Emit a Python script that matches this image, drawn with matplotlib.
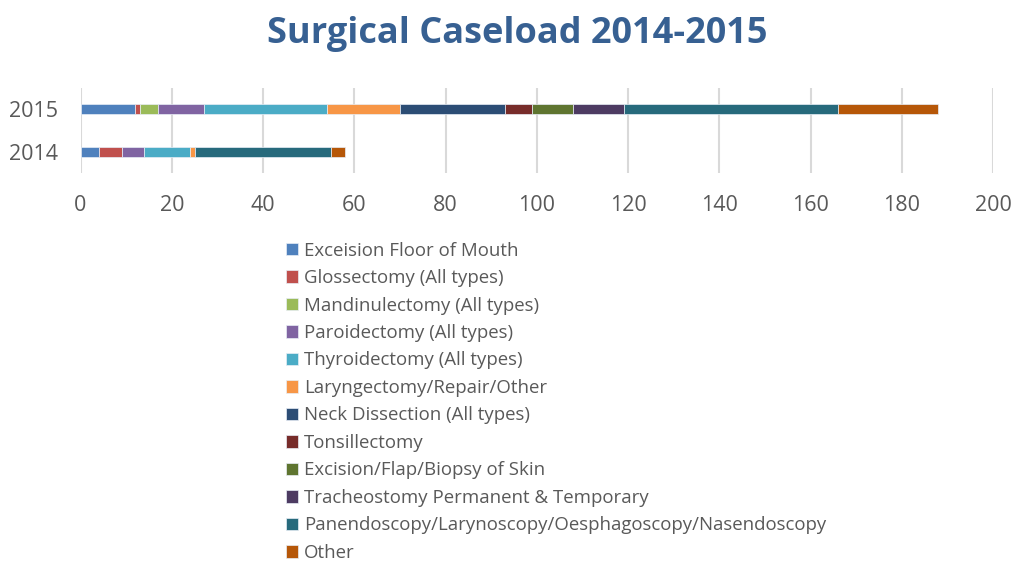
import matplotlib
matplotlib.use("Agg")
import matplotlib.pyplot as plt

plt.rcParams["font.family"] = ["Open Sans", "DejaVu Sans"]

years = ["2014", "2015"]
procedures = [
    "Exceision Floor of Mouth",
    "Glossectomy (All types)",
    "Mandinulectomy (All types)",
    "Paroidectomy (All types)",
    "Thyroidectomy (All types)",
    "Laryngectomy/Repair/Other",
    "Neck Dissection (All types)",
    "Tonsillectomy",
    "Excision/Flap/Biopsy of Skin",
    "Tracheostomy Permanent & Temporary",
    "Panendoscopy/Larynoscopy/Oesphagoscopy/Nasendoscopy",
    "Other",
]
# cases per procedure: [2014, 2015]
cases = [
    [4, 12],
    [5, 1],
    [0, 4],
    [5, 10],
    [10, 27],
    [1, 16],
    [0, 23],
    [0, 6],
    [0, 9],
    [0, 11],
    [30, 47],
    [3, 22],
]
colors = ["#4F81BD", "#C0504D", "#9BBB59", "#8064A2", "#4BACC6", "#F79646",
          "#2C4D75", "#772C2A", "#5F7530", "#4D3B62", "#276A7C", "#B65708"]

fig = plt.figure(figsize=(10.14, 5.63), dpi=100)
ax = fig.add_axes([0.0794, 0.6927, 0.900, 0.151])

left = [0, 0]
for name, vals, c in zip(procedures, cases, colors):
    ax.barh(range(len(years)), vals, left=left, height=0.235, color=c,
            edgecolor="#E8EEF6", linewidth=0.5, label=name)
    left = [l + v for l, v in zip(left, vals)]

ax.set_xlim(0, 200)
ax.set_ylim(-0.5, 1.5)
ax.set_xticks(range(0, 201, 20))
ax.set_yticks(range(len(years)))
ax.set_yticklabels(years)
ax.grid(axis="x", color="#D9D9D9", linewidth=1.5)
ax.set_axisbelow(True)
for s in ax.spines.values():
    s.set_visible(False)
ax.tick_params(length=0, labelsize=15.5, colors="#595959")
ax.tick_params(axis="x", pad=16)
ax.tick_params(axis="y", pad=16)

fig.suptitle("Surgical Caseload 2014-2015", x=0.51, y=0.972, fontsize=26,
             fontweight="bold", color="#376092")

fig.legend(loc="upper left", bbox_to_anchor=(0.282, 0.571), frameon=False,
           fontsize=13.4, labelcolor="#595959", handlelength=0.65,
           handleheight=0.65, handletextpad=0.3, labelspacing=0.51,
           borderpad=0, borderaxespad=0)

fig.savefig("out.png", dpi=100)
